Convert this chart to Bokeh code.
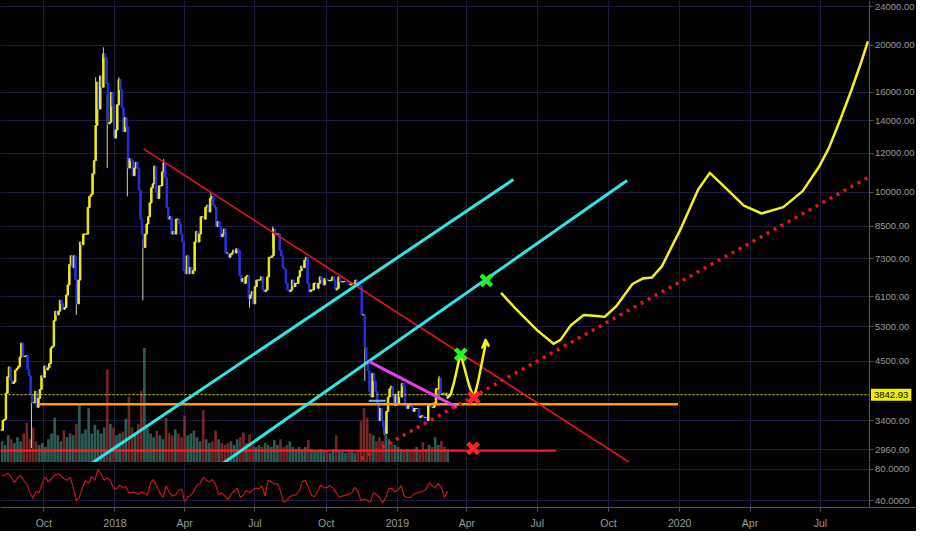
import numpy as np
import pandas as pd
from bokeh.plotting import figure
from bokeh.layouts import column
from bokeh.models import (Range1d, LinearScale, FixedTicker, PrintfTickFormatter, Label,
                          BoxAnnotation)
from bokeh.embed import file_html
from bokeh.resources import INLINE

# ---------------- data ----------------
candle_start = "2017-08-06"          # 2-day candles
closes = [
    3250, 3400, 3420, 3870, 4180, 4380, 4120, 4050, 4080, 4310, 4350, 4390, 4590,             # Aug 17
    4900, 4600, 4600, 4620, 4330, 4200, 3850, 3700, 3700, 3900, 3620, 3780, 3940, 4200, 4170, # Sep
    4400, 4320, 4360, 4450, 4790, 4830, 5450, 5700, 5600, 5700, 6000, 5900, 5750, 5800, 6150, 6450,  # Oct
    7100, 7400, 7000, 7400, 6600, 5900, 6600, 7900, 7800, 8200, 8200, 8200, 9300, 9800, 9900, # Nov
    10900, 11600, 13700, 16800, 14800, 17300, 16400, 19200, 18900, 16700, 13800, 13900, 16000, 15000, 12900,  # Dec
    13400, 15100, 17000, 16200, 14900, 13300, 14200, 13600, 11200, 11700, 11600, 10800, 11200, 11500, 11200, 10100,  # Jan 18
    8800, 8200, 7700, 8200, 8600, 8900, 9500, 10200, 10400, 11300, 10000, 9700, 10300, 10300,  # Feb
    11000, 11500, 10700, 9300, 8800, 8900, 8200, 8300, 8200, 8800, 8800, 8600, 8200, 7900, 6900,  # Mar
    6800, 7400, 6800, 7000, 6800, 6900, 7900, 8300, 7900, 8200, 8900, 8900, 8800, 9300, 9400,  # Apr
    9100, 9700, 9800, 9400, 9300, 8500, 8700, 8500, 8100, 8200, 8400, 7500, 7500, 7350, 7450, 7500,  # May
    7600, 7500, 7650, 7600, 6750, 6550, 6650, 6500, 6700, 6750, 6050, 6150, 6250, 5900, 6400,  # Jun
    6600, 6600, 6600, 6700, 6300, 6250, 6300, 6700, 7350, 7350, 7400, 8400, 8200, 8200, 8200,  # Jul
    7600, 7400, 7000, 6950, 6500, 6300, 6250, 6300, 6600, 6400, 6500, 6500, 6700, 6900, 7050, 7000,  # Aug
    7250, 7350, 6500, 6250, 6300, 6300, 6500, 6500, 6350, 6500, 6700, 6600, 6450, 6650, 6630,  # Sep
    6580, 6580, 6600, 6700, 6600, 6300, 6350, 6700, 6550, 6550, 6550, 6560, 6550, 6520, 6450,  # Oct
    6480, 6500, 6500, 6600, 6450, 6450, 6400, 5600, 5600, 4800, 4500, 4300, 3900, 3800, 4250,  # Nov
    4100, 3900, 3700, 3400, 3600, 3400, 3300, 3200, 3550, 3800, 3950, 4000, 3800, 3650, 3850, 3700,  # Dec
    3900, 3800, 4050, 4000, 3650, 3600, 3650, 3650, 3630, 3550, 3600, 3600, 3600, 3450, 3470,  # Jan 19
    3480, 3450, 3450, 3400, 3650, 3650, 3620, 3620, 3700, 3950, 3950, 4150, 3850, 3850,  # Feb
    3870, 3830, 3870, 3843,  # Mar
]
wick_dates = ["2017-09-15", "2017-11-12", "2017-12-07", "2017-12-17", "2017-12-22", "2018-01-06",
              "2018-01-17", "2018-02-06", "2018-03-05", "2018-05-05", "2018-06-24", "2018-07-24",
              "2018-11-20", "2018-12-15", "2019-02-24"]
wick_lows = [2990, 5600, 13800, 18500, 11200, 16500, 9800, 6000, 11100, 9600, 5800, 7700, 4100, 3180, 3750]
wick_highs = [3900, 6500, 17200, 19800, 15800, 17200, 11800, 8000, 11700, 9950, 6250, 8500, 5000, 3300, 4200]

ind_start = "2017-08-06"             # 4-day bins for volume and RSI
volumes = [
    22, 18, 28, 24, 20, 26, 22, 30, 41, 24,
    36, 22, 18, 20, 16, 24, 30, 46, 28, 22,
    33, 26, 30, 28, 40, 61, 30, 34, 56, 30,
    39, 34, 30, 36, 96, 40, 36, 28, 30, 32,
    45, 68, 36, 30, 40, 74, 118, 36, 30, 26,
    33, 28, 24, 46, 30, 28, 34, 30, 26, 48,
    28, 30, 33, 26, 22, 54, 24, 20, 22, 33,
    24, 20, 18, 20, 22, 18, 24, 26, 31, 20,
    29, 18, 16, 18, 16, 20, 18, 16, 23, 18,
    24, 16, 18, 22, 16, 14, 16, 14, 16, 23,
    14, 12, 12, 14, 12, 12, 10, 14, 28, 12,
    11, 10, 12, 11, 10, 12, 43, 56, 46, 30,
    28, 22, 26, 22, 29, 24, 19, 18, 16, 14,
    12, 14, 12, 14, 16, 13, 21, 14, 18, 16,
    26, 18, 22, 16, 14,
]
rsi = [
    71, 73, 75, 70, 63, 69, 72, 66, 61, 50,
    43, 52, 50, 62, 70, 64, 68, 73, 74, 72,
    68, 66, 70, 57, 40, 44, 57, 66, 62, 71,
    66, 80, 74, 66, 69, 66, 56, 55, 60, 57,
    58, 50, 51, 50, 48, 51, 50, 47, 63, 67,
    58, 50, 44, 59, 51, 46, 47, 53, 55, 39,
    44, 47, 52, 60, 62, 70, 66, 64, 67, 61,
    48, 50, 46, 41,
    48, 52, 56, 44, 47, 53, 50, 54, 56, 55,
    59, 46, 66, 64, 61, 62, 52, 38, 40, 45,
    47, 47, 52, 64, 66, 57, 47, 45, 52, 60,
    56, 57, 59, 56, 50, 44, 46, 47, 48, 50,
    57, 52, 40, 42, 40, 38, 50, 48, 44, 37,
    44, 55, 56, 51, 54, 59, 46, 44, 44, 48,
    50, 51, 52, 54, 63, 59, 56, 62, 57, 44,
    52,
]

# drawings (date, price)
resist_dates = ["2018-02-07", "2019-11-05"]
resist_prices = [12264, 2740]
chanA_dates = ["2017-11-28", "2019-05-31"]
chanA_prices = [2753, 10607]
chanB_dates = ["2018-05-19", "2019-10-25"]
chanB_prices = [2767, 10559]
wedge_dates = ["2018-11-25", "2019-03-19"]
wedge_prices = [4498, 3624]
box_dates = ["2018-11-25", "2018-12-17"]
box_price = 3734
orange_dates = ["2017-09-24", "2019-12-30"]
orange_price = 3673
floor_dates = ["2017-07-01", "2019-07-25"]
floor_price = 2950
support_dates = ["2018-11-06", "2020-08-31"]
support_prices = [2786, 10703]
path1_dates = ["2019-03-07", "2019-03-11", "2019-03-16", "2019-03-22", "2019-03-24", "2019-03-29",
               "2019-04-04", "2019-04-10", "2019-04-15", "2019-04-20", "2019-04-25", "2019-04-26"]
path1_prices = [3790, 3847, 4114, 4545, 4649, 4343, 4004, 3790, 4058, 4443, 4864, 4931]
arrow_dates = ["2019-04-21", "2019-04-25", "2019-04-29"]
arrow_prices = [4798, 4977, 4842]
path2_dates = ["2019-05-16", "2019-06-02", "2019-07-01", "2019-07-22", "2019-07-31", "2019-08-13",
               "2019-08-30", "2019-09-16", "2019-09-26", "2019-10-11", "2019-11-01", "2019-11-14",
               "2019-11-26", "2019-12-09", "2020-01-03", "2020-01-25", "2020-02-09", "2020-02-23",
               "2020-03-24", "2020-04-16", "2020-05-14", "2020-06-08", "2020-06-29", "2020-07-12",
               "2020-07-27", "2020-08-10", "2020-08-23", "2020-08-31"]
path2_prices = [6193, 5787, 5206, 4887, 4977, 5325, 5598, 5573, 5548, 5832, 6480, 6648,
                6679, 7041, 8446, 10123, 10949, 10431, 9384, 9037, 9314, 10046, 11253, 12319,
                14115, 16170, 18520, 20283]
green_x_dates = ["2019-03-24", "2019-04-26"]
green_x_prices = [4649, 6589]
red_x_dates = ["2019-04-10", "2019-04-09"]
red_x_prices = [3790, 2982]
last_price = 3842.93

price_ticks = [2960, 3400, 4500, 5300, 6100, 7300, 8500, 10000, 12000, 14000, 16000, 20000, 24000]
rsi_ticks = [40, 80]
quarter_dates = ["2017-10-01", "2018-01-01", "2018-04-01", "2018-07-01", "2018-10-01", "2019-01-01",
                 "2019-04-01", "2019-07-01", "2019-10-01", "2020-01-01", "2020-04-01", "2020-07-01"]
quarter_labels = ["Oct", "2018", "Apr", "Jul", "Oct", "2019", "Apr", "Jul", "Oct", "2020", "Apr", "Jul"]

view_start = "2017-08-06 00:00"
view_end = "2020-11-02 05:00"
price_axis_at = "2020-09-03 02:00"   # time at which the price scale column begins
price_min, price_max = 2790, 24700

# ---------------- build ----------------
DAY = 86400000.0
BG = "#000000"
GRID = "#1d1a40"
AXIS = "#555555"
LABEL = "#9a9a9a"
FONT = "Liberation Sans"
W = 916


def dts(lst):
    return pd.to_datetime(lst)


def ms(s):
    return pd.Timestamp(s).value / 1e6


quarter_ms = [ms(d) for d in quarter_dates]
axis_ms = ms(price_axis_at)
x_range = Range1d(start=pd.Timestamp(view_start), end=pd.Timestamp(view_end))


def base_style(fig):
    fig.background_fill_color = BG
    fig.border_fill_color = BG
    fig.outline_line_color = None
    fig.min_border_left = 0
    fig.min_border_right = 0
    fig.min_border_top = 0
    fig.min_border_bottom = 0
    fig.xgrid.ticker = FixedTicker(ticks=quarter_ms)
    fig.grid.grid_line_color = GRID
    fig.grid.grid_line_width = 1
    # price-scale column: axis drawn inside the frame at a fixed time
    fig.yaxis.fixed_location = axis_ms
    fig.yaxis.axis_line_color = AXIS
    fig.yaxis.axis_line_width = 1.2
    fig.yaxis.major_tick_line_color = AXIS
    fig.yaxis.minor_tick_line_color = None
    fig.yaxis.major_tick_out = 4
    fig.yaxis.major_tick_in = 0
    fig.yaxis.major_label_standoff = 1
    fig.yaxis.major_label_text_color = LABEL
    fig.yaxis.major_label_text_font = FONT
    fig.yaxis.major_label_text_font_size = "9.5px"
    fig.add_layout(BoxAnnotation(left=axis_ms, fill_color=BG, fill_alpha=1.0,
                                 line_color=None, level="underlay"))


# main price panel
p = figure(frame_width=W, frame_height=462, x_range=x_range, y_range=Range1d(price_min, price_max),
           x_axis_type="datetime", y_axis_type="log", y_axis_location="right",
           output_backend="svg", toolbar_location=None)
base_style(p)
p.yaxis.ticker = FixedTicker(ticks=price_ticks)
p.yaxis.formatter = PrintfTickFormatter(format="%.2f")
p.xaxis.ticker = FixedTicker(ticks=[])
p.xaxis.major_tick_out = 0
p.xaxis.major_tick_in = 0
p.xaxis.major_label_standoff = 0
p.xaxis.minor_tick_line_color = None
p.xaxis.axis_line_color = AXIS
p.xaxis.axis_line_width = 1.2

# volume (own linear scale at the bottom)
p.extra_y_ranges = {"vol": Range1d(0, 476)}
p.extra_y_scales = {"vol": LinearScale()}
c = np.array(closes, dtype=float)
o = np.r_[c[0], c[:-1]]
vol_x = pd.date_range(ind_start, periods=len(volumes), freq="4D") + pd.Timedelta(days=2)
vol_colors = []
for k in range(len(volumes)):
    a = c[2 * k + 1]
    b = c[max(2 * k - 1, 0)]
    vol_colors.append("#4a9a8e" if a >= b else "#c04040")
p.vbar(x=vol_x, top=volumes, bottom=0, width=3.4 * DAY, y_range_name="vol",
       fill_color=vol_colors, fill_alpha=0.6, line_color=None)

# floor line (red) over volume
p.line(dts(floor_dates), [floor_price, floor_price], line_color="#ff1c1c", line_width=2)

# candles
cx = pd.date_range(candle_start, periods=len(c), freq="2D") + pd.Timedelta(days=1)
ccol = ["#f0ec1a" if cc >= oo else "#2630e6" for cc, oo in zip(c, o)]
p.segment(x0=dts(wick_dates), y0=wick_lows, x1=dts(wick_dates), y1=wick_highs,
          line_color="#cfcfb8", line_width=1)
p.vbar(x=cx, top=np.maximum(o, c), bottom=np.minimum(o, c), width=1.9 * DAY,
       fill_color=ccol, line_color=ccol, line_width=1)

# horizontal levels
p.line(dts(orange_dates), [orange_price, orange_price], line_color="#ff9a1a", line_width=2.5)
p.line(dts(box_dates), [box_price, box_price], line_color="#4fc3f7", line_width=2)
p.line(dts([view_start, price_axis_at]), [last_price, last_price], line_color="#e8e800",
       line_dash="2 2", line_width=1)

# trend lines
p.line(dts(resist_dates), resist_prices, line_color="#e8141a", line_width=1.6)
p.line(dts(chanA_dates), chanA_prices, line_color="#2ee6e6", line_width=3)
p.line(dts(chanB_dates), chanB_prices, line_color="#2ee6e6", line_width=3)
p.line(dts(wedge_dates), wedge_prices, line_color="#e040e8", line_width=3)
p.line(dts(support_dates), support_prices, line_color="#e01818", line_width=3.5, line_dash="3 5")

# projected path
p.line(dts(path1_dates), path1_prices, line_color="#f5f218", line_width=2.5,
       line_join="round", line_cap="round")
p.line(dts(arrow_dates), arrow_prices, line_color="#f5f218", line_width=2.5,
       line_join="round", line_cap="round")
p.line(dts(path2_dates), path2_prices, line_color="#f5f218", line_width=2.5,
       line_join="round", line_cap="round")

# markers
p.scatter(dts(green_x_dates), green_x_prices, marker="x", size=15, line_color="#28f028", line_width=4.5)
p.scatter(dts(red_x_dates), red_x_prices, marker="x", size=15, line_color="#ff2424", line_width=4.5)

# last price tag on the price scale
p.add_layout(Label(x=axis_ms, y=last_price, x_units="data", y_units="data", x_offset=1,
                   text=f"{last_price:.2f}", text_color="#000000", text_font=FONT,
                   text_font_size="9.5px", text_baseline="middle", text_align="left",
                   background_fill_color="#f2f000", background_fill_alpha=1.0, padding=3))

# RSI panel
r = figure(frame_width=W, frame_height=45, x_range=x_range, y_range=Range1d(31.25, 88.75),
           x_axis_type="datetime", y_axis_location="right",
           output_backend="svg", toolbar_location=None)
base_style(r)
r.yaxis.ticker = FixedTicker(ticks=rsi_ticks)
r.yaxis.formatter = PrintfTickFormatter(format="%.4f")
r.xaxis.ticker = FixedTicker(ticks=quarter_ms)
r.xaxis.major_label_overrides = {m: lab for m, lab in zip(quarter_ms, quarter_labels)}
r.xaxis.axis_line_color = AXIS
r.xaxis.axis_line_width = 1.2
r.xaxis.major_tick_line_color = AXIS
r.xaxis.minor_tick_line_color = None
r.xaxis.major_tick_out = 4
r.xaxis.major_tick_in = 0
r.xaxis.major_label_standoff = 5
r.xaxis.major_label_text_color = LABEL
r.xaxis.major_label_text_font = FONT
r.xaxis.major_label_text_font_size = "10.5px"

rsi_x = pd.date_range(ind_start, periods=len(rsi), freq="4D") + pd.Timedelta(days=2)
r.line(rsi_x, rsi, line_color="#c8161c", line_width=1.2)

layout = column(p, r, spacing=0, styles={"background-color": BG})
open("out.html", "w").write(file_html(layout, INLINE))
